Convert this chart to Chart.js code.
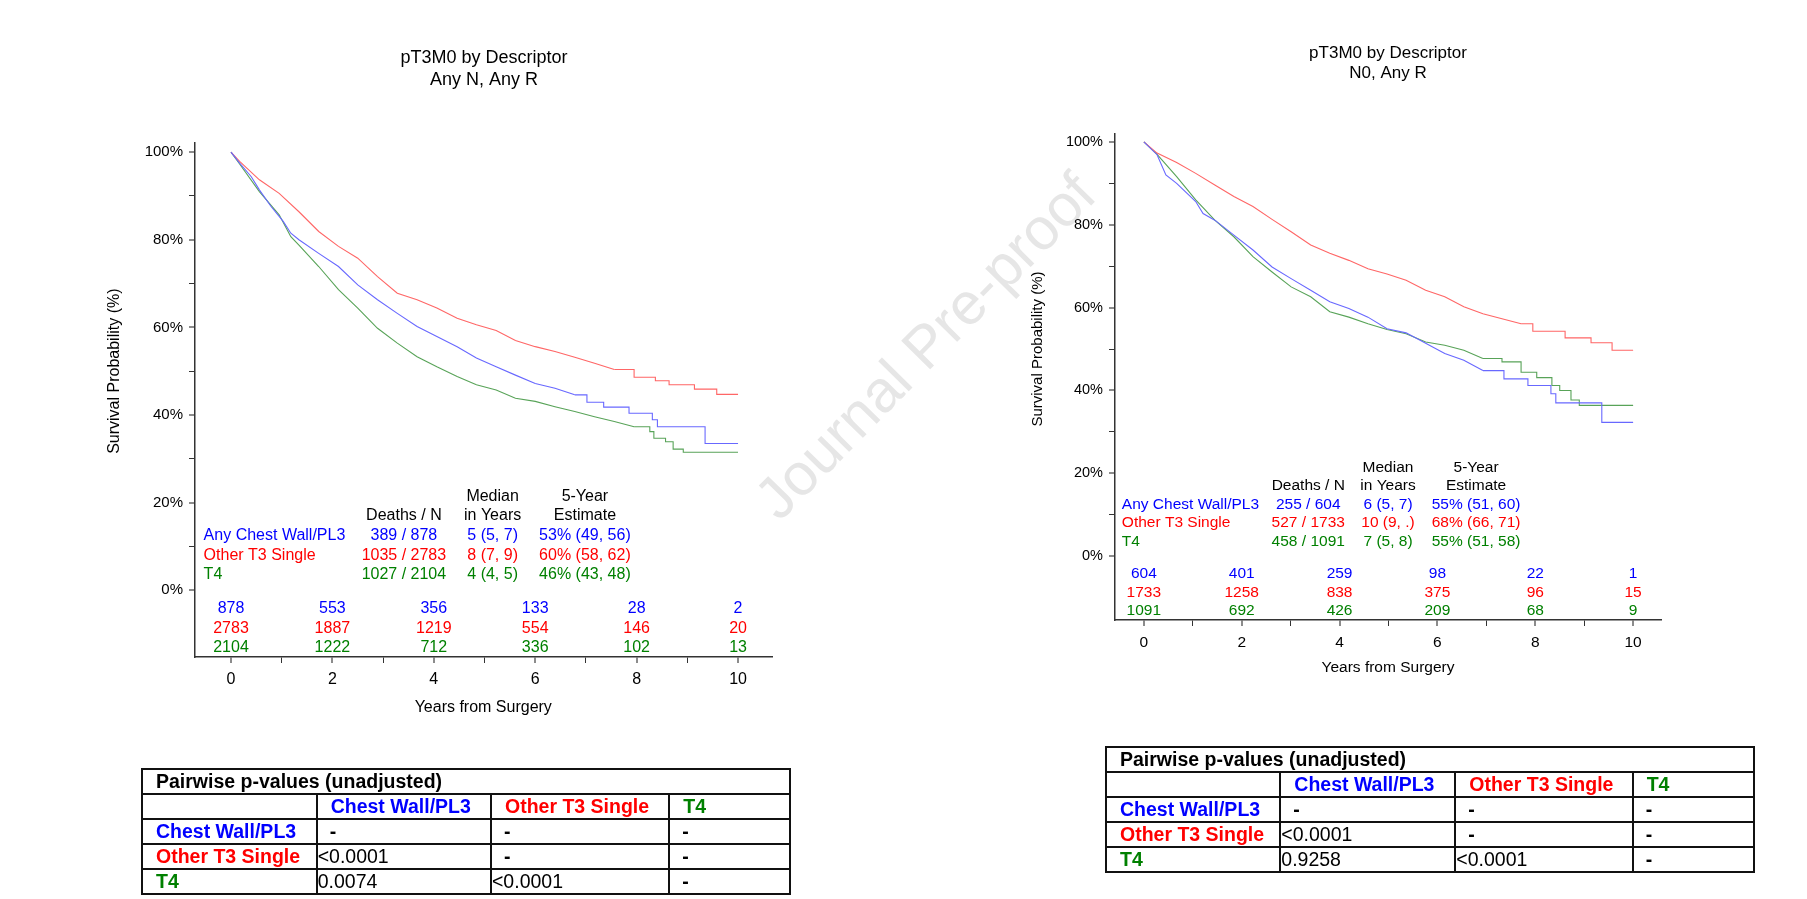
<!DOCTYPE html>
<html>
<head>
<meta charset="utf-8">
<script src="https://cdn.jsdelivr.net/npm/chart.js@4.4.1/dist/chart.umd.min.js"></script>
<style>
html,body{margin:0;padding:0;background:#fff;}
body{width:1807px;height:899px;position:relative;overflow:hidden;font-family:"Liberation Sans",Arial,sans-serif;}
canvas.kmc{position:absolute;left:0;top:0;}
#wm{position:absolute;left:925px;top:346px;transform:translate(-50%,-50%) rotate(-45.5deg);font-size:59px;color:#e6e6e6;white-space:nowrap;font-family:"Liberation Sans",Arial,sans-serif;}
table.pw{position:absolute;border-collapse:collapse;table-layout:fixed;font-family:"Liberation Sans",Arial,sans-serif;font-size:19.5px;color:#000;}
table.pw td{border:2px solid #111;padding:0;white-space:nowrap;overflow:hidden;line-height:21px;}
table.pw tr{height:25px;}
table.pw td.b{font-weight:bold;padding-left:13px;}
table.pw td.n{padding-left:0;}
table.pw td.d{font-weight:bold;padding-left:12px;}
</style>
</head>
<body>
<div id="wm">Journal Pre-proof</div>
<canvas id="cA" class="kmc" width="1807" height="899"></canvas>
<canvas id="cB" class="kmc" width="1807" height="899"></canvas>
<script>
// ---------------- DATA ----------------
const groupNames = ['Any Chest Wall/PL3', 'Other T3 Single', 'T4'];
const tableGroupNames = ['Chest Wall/PL3', 'Other T3 Single', 'T4'];
const xTickValues = [0,1,2,3,4,5,6,7,8,9,10];
const yTickValues = [0,10,20,30,40,50,60,70,80,90,100];
const atRiskYears = [0,2,4,6,8,10];

// Panel A: pT3M0 by Descriptor, Any N, Any R
const A_chestWall_years = [0,0.17,0.4,0.56,0.79,1.03,1.18,1.34,1.73,2.12,2.5,2.89,3.28,3.67,4.06,4.46,4.84,5.23,5.61,6.0,6.39,6.78,7.02,7.35,7.85,8.31,8.41,9.35,10];
const A_chestWall_surv  = [100,97.5,94.4,91.4,87.6,84.2,81.5,80.0,76.9,73.9,69.7,66.3,63.2,60.2,57.9,55.6,53.0,51.0,49.1,47.2,46.1,44.6,42.9,41.8,40.4,38.9,37.3,33.5,33.5];
const A_otherT3_years = [0,0.17,0.56,0.95,1.34,1.73,2.12,2.5,2.89,3.28,3.67,4.06,4.46,4.84,5.23,5.61,6.0,6.39,6.78,7.17,7.56,7.95,8.37,8.64,9.14,9.58,10];
const A_otherT3_surv  = [100,97.9,93.7,90.6,86.4,81.9,78.5,75.8,71.6,67.8,66.3,64.4,62.1,60.6,59.3,57.0,55.6,54.5,53.2,51.8,50.4,48.6,47.8,46.9,45.9,44.7,44.7];
const A_T4_years = [0,0.17,0.56,0.95,1.18,1.34,1.73,2.12,2.5,2.89,3.28,3.67,4.06,4.46,4.84,5.23,5.61,6.0,6.39,6.78,7.17,7.56,7.95,8.26,8.34,8.57,8.72,8.92,10];
const A_T4_surv  = [100,97.3,91.0,85.7,80.7,78.8,73.9,68.6,64.4,59.8,56.4,53.3,51.0,48.8,46.9,45.7,43.8,43.1,41.9,40.8,39.6,38.5,37.3,36.2,34.7,33.9,32.2,31.5,31.5];
const A_atRisk_chestWall = [878,553,356,133,28,2];
const A_atRisk_otherT3   = [2783,1887,1219,554,146,20];
const A_atRisk_T4        = [2104,1222,712,336,102,13];
const A_deathsN  = ['389 / 878','1035 / 2783','1027 / 2104'];
const A_median   = ['5 (5, 7)','8 (7, 9)','4 (4, 5)'];
const A_fiveYear = ['53% (49, 56)','60% (58, 62)','46% (43, 48)'];
const A_pvalues  = [['-','-','-'],['<0.0001','-','-'],['0.0074','<0.0001','-']];

// Panel B: pT3M0 by Descriptor, N0, Any R
const B_chestWall_years = [0,0.27,0.45,0.67,1.06,1.21,1.45,1.84,2.23,2.62,3.01,3.41,3.8,4.19,4.58,4.97,5.36,5.76,6.15,6.54,6.93,7.36,7.85,8.32,8.42,9.36,10];
const B_chestWall_surv  = [100,96.9,92.0,90.0,85.6,82.7,81.1,77.5,73.9,69.8,67.0,64.2,61.4,59.8,57.7,54.9,53.9,51.4,48.9,47.3,44.8,42.8,41.2,39.2,37.0,32.3,32.3];
const B_otherT3_years = [0,0.27,0.67,1.06,1.45,1.84,2.23,2.62,3.01,3.41,3.8,4.19,4.58,4.97,5.36,5.76,6.15,6.54,6.93,7.32,7.71,7.95,8.61,9.14,9.57,10];
const B_otherT3_surv  = [100,97.3,95.0,92.4,89.6,86.8,84.4,81.3,78.3,75.1,73.1,71.4,69.4,68.1,66.6,64.2,62.6,60.2,58.5,57.3,56.1,54.3,52.7,51.5,49.7,49.7];
const B_T4_years = [0,0.27,0.67,1.06,1.45,1.84,2.23,2.62,3.01,3.41,3.8,4.19,4.58,4.97,5.36,5.76,6.15,6.54,6.93,7.32,7.71,8.03,8.34,8.5,8.73,8.9,10];
const B_T4_surv  = [100,97.0,91.6,86.0,81.1,77.1,72.3,68.6,65.0,62.6,59.0,57.7,56.1,54.7,53.7,51.7,50.9,49.7,47.7,46.9,44.4,43.1,41.2,40.0,37.7,36.4,36.4];
const B_atRisk_chestWall = [604,401,259,98,22,1];
const B_atRisk_otherT3   = [1733,1258,838,375,96,15];
const B_atRisk_T4        = [1091,692,426,209,68,9];
const B_deathsN  = ['255 / 604','527 / 1733','458 / 1091'];
const B_median   = ['6 (5, 7)','10 (9, .)','7 (5, 8)'];
const B_fiveYear = ['55% (51, 60)','68% (66, 71)','55% (51, 58)'];
const B_pvalues  = [['-','-','-'],['<0.0001','-','-'],['0.9258','<0.0001','-']];

// ---------------- STYLE / LAYOUT ----------------
const textColors = ['#0000ff','#ff0000','#008000'];
const lineColors = ['#6868ff','#ff6666','#58a358'];
const FONT = '"Liberation Sans", Arial, sans-serif';

const panels = [
  {
    canvas:'cA',
    title:['pT3M0 by Descriptor','Any N, Any R'], titleX:484, titleY:[58.5,80], titleSize:18,
    area:{left:195, right:771.5, top:143, bottom:657}, xH:60,
    xMin:-0.71, xMax:10.66, yMin:-15.26, yMax:102.1,
    fs:16, tickFs:15, yTitleX:115, yTitleFs:16,
    years:[A_chestWall_years,A_otherT3_years,A_T4_years],
    surv:[A_chestWall_surv,A_otherT3_surv,A_T4_surv],
    stepFrom:[6.78,7.56,7.95],
    atRisk:[A_atRisk_chestWall,A_atRisk_otherT3,A_atRisk_T4],
    deaths:A_deathsN, median:A_median, five:A_fiveYear,
    colX:{label:-0.54, deaths:3.41, median:5.16, est:6.98},
    rowY:{h1:21.3, h2:17.0, rows:[12.4,8.0,3.45], risk:[-4.25,-8.8,-13.15]}
  },
  {
    canvas:'cB',
    title:['pT3M0 by Descriptor','N0, Any R'], titleX:1388, titleY:[53.5,73], titleSize:17,
    area:{left:1115, right:1661, top:134, bottom:620}, xH:57.3,
    xMin:-0.59, xMax:10.57, yMin:-15.4, yMax:101.9,
    fs:15.5, tickFs:14.5, yTitleX:1038, yTitleFs:15,
    years:[B_chestWall_years,B_otherT3_years,B_T4_years],
    surv:[B_chestWall_surv,B_otherT3_surv,B_T4_surv],
    stepFrom:[6.93,7.71,6.93],
    atRisk:[B_atRisk_chestWall,B_atRisk_otherT3,B_atRisk_T4],
    deaths:B_deathsN, median:B_median, five:B_fiveYear,
    colX:{label:-0.45, deaths:3.36, median:4.99, est:6.79},
    rowY:{h1:21.3, h2:17.0, rows:[12.4,8.0,3.5], risk:[-4.2,-8.85,-13.2]}
  }
];

const annotPlugin = {
  id:'annot',
  afterDraw(chart, args, opts) {
    const P = opts.panel;
    const ctx = chart.ctx, xs = chart.scales.x, ys = chart.scales.y;
    ctx.save();
    ctx.textBaseline = 'middle';
    ctx.fillStyle = '#000';
    ctx.textAlign = 'center';
    ctx.font = P.titleSize + 'px ' + FONT;
    P.title.forEach((t,i) => ctx.fillText(t, P.titleX, P.titleY[i]));
    ctx.save();
    ctx.translate(P.yTitleX, (ys.getPixelForValue(0) + ys.getPixelForValue(100)) / 2);
    ctx.rotate(-Math.PI/2);
    ctx.font = P.yTitleFs + 'px ' + FONT;
    ctx.fillText('Survival Probability (%)', 0, 0);
    ctx.restore();
    ctx.font = P.fs + 'px ' + FONT;
    const X = k => xs.getPixelForValue(P.colX[k]);
    const Y = v => ys.getPixelForValue(v);
    ctx.fillText('Median', X('median'), Y(P.rowY.h1));
    ctx.fillText('5-Year', X('est'), Y(P.rowY.h1));
    ctx.fillText('Deaths / N', X('deaths'), Y(P.rowY.h2));
    ctx.fillText('in Years', X('median'), Y(P.rowY.h2));
    ctx.fillText('Estimate', X('est'), Y(P.rowY.h2));
    for (let g = 0; g < 3; g++) {
      ctx.fillStyle = textColors[g];
      const yy = Y(P.rowY.rows[g]);
      ctx.textAlign = 'left';
      ctx.fillText(groupNames[g], X('label'), yy);
      ctx.textAlign = 'center';
      ctx.fillText(P.deaths[g], X('deaths'), yy);
      ctx.fillText(P.median[g], X('median'), yy);
      ctx.fillText(P.five[g], X('est'), yy);
      const ry = Y(P.rowY.risk[g]);
      P.atRisk[g].forEach((n,i) => ctx.fillText(String(n), xs.getPixelForValue(atRiskYears[i]), ry));
    }
    ctx.restore();
  }
};

function buildPanel(P) {
  const datasets = [];
  for (let g = 0; g < 3; g++) {
    const pts = P.years[g].map((t,i) => ({x:t, y:P.surv[g][i]}));
    const smooth = pts.filter(p => p.x <= P.stepFrom[g]);
    const tail = pts.filter(p => p.x >= P.stepFrom[g]);
    datasets.push({data:smooth, borderColor:lineColors[g], borderWidth:1.1, pointRadius:0, tension:0, stepped:false, fill:false});
    datasets.push({data:tail, borderColor:lineColors[g], borderWidth:1.1, pointRadius:0, tension:0, stepped:'before', fill:false});
  }
  const tickFont = {family:FONT, size:P.tickFs};
  const gridColor = major => c => (c.tick && major(c.tick.value)) ? '#8c8c8c' : '#333';
  const gridWidth = major => c => (c.tick && major(c.tick.value)) ? 2 : 1;
  const xMajor = v => v % 2 === 0, yMajor = v => v % 20 === 0;
  new Chart(document.getElementById(P.canvas), {
    type:'line',
    data:{datasets},
    options:{
      responsive:false, animation:false, events:[],
      layout:{padding:{left:0, top:P.area.top, right:1807 - P.area.right, bottom:899 - P.area.bottom - P.xH}},
      plugins:{legend:{display:false}, tooltip:{enabled:false}, title:{display:false}, annot:{panel:P}},
      scales:{
        x:{
          type:'linear', min:P.xMin, max:P.xMax,
          afterBuildTicks: s => { s.ticks = xTickValues.map(v => ({value:v})); },
          afterFit: s => { s.height = P.xH; },
          ticks:{autoSkip:false, maxRotation:0, color:'#000', font:{family:FONT, size:P.fs}, padding:7,
                 callback: v => xMajor(v) ? String(v) : ''},
          grid:{drawOnChartArea:false, drawTicks:true, tickLength:6, color:gridColor(xMajor), lineWidth:gridWidth(xMajor)},
          border:{display:true, color:'#333', width:1.5},
          title:{display:true, text:'Years from Surgery', color:'#000', font:{family:FONT, size:P.fs}, padding:{top:0, bottom:0}}
        },
        y:{
          type:'linear', min:P.yMin, max:P.yMax,
          afterBuildTicks: s => { s.ticks = yTickValues.map(v => ({value:v})); },
          afterFit: s => { s.width = P.area.left; },
          ticks:{autoSkip:false, color:'#000', font:tickFont, padding:6,
                 callback: v => yMajor(v) ? v + '%' : ''},
          grid:{drawOnChartArea:false, drawTicks:true, tickLength:6, color:gridColor(yMajor), lineWidth:gridWidth(yMajor)},
          border:{display:true, color:'#333', width:1.5}
        }
      }
    },
    plugins:[annotPlugin]
  });
}
panels.forEach(buildPanel);

// ---------------- P-VALUE TABLES ----------------
function buildTable(pv, left, top, widths) {
  const t = document.createElement('table');
  t.className = 'pw';
  t.style.left = left + 'px';
  t.style.top = top + 'px';
  let h = '<colgroup>' + widths.map(w => '<col style="width:' + w + 'px">').join('') + '</colgroup>';
  h += '<tr><td class="b" colspan="4">Pairwise p-values (unadjusted)</td></tr>';
  h += '<tr><td></td>' + tableGroupNames.map((n,i) => '<td class="b" style="color:' + textColors[i] + '">' + n + '</td>').join('') + '</tr>';
  for (let r = 0; r < 3; r++) {
    h += '<tr><td class="b" style="color:' + textColors[r] + '">' + tableGroupNames[r] + '</td>';
    h += pv[r].map(v => v === '-' ? '<td class="d">-</td>' : '<td class="n">' + v.replace('<','&lt;') + '</td>').join('');
    h += '</tr>';
  }
  t.innerHTML = h;
  document.body.appendChild(t);
}
buildTable(A_pvalues, 141, 768.3, [174.7,174.3,178.3,121]);
buildTable(B_pvalues, 1105, 746, [174.3,175,177.4,121]);
</script>
</body>
</html>
